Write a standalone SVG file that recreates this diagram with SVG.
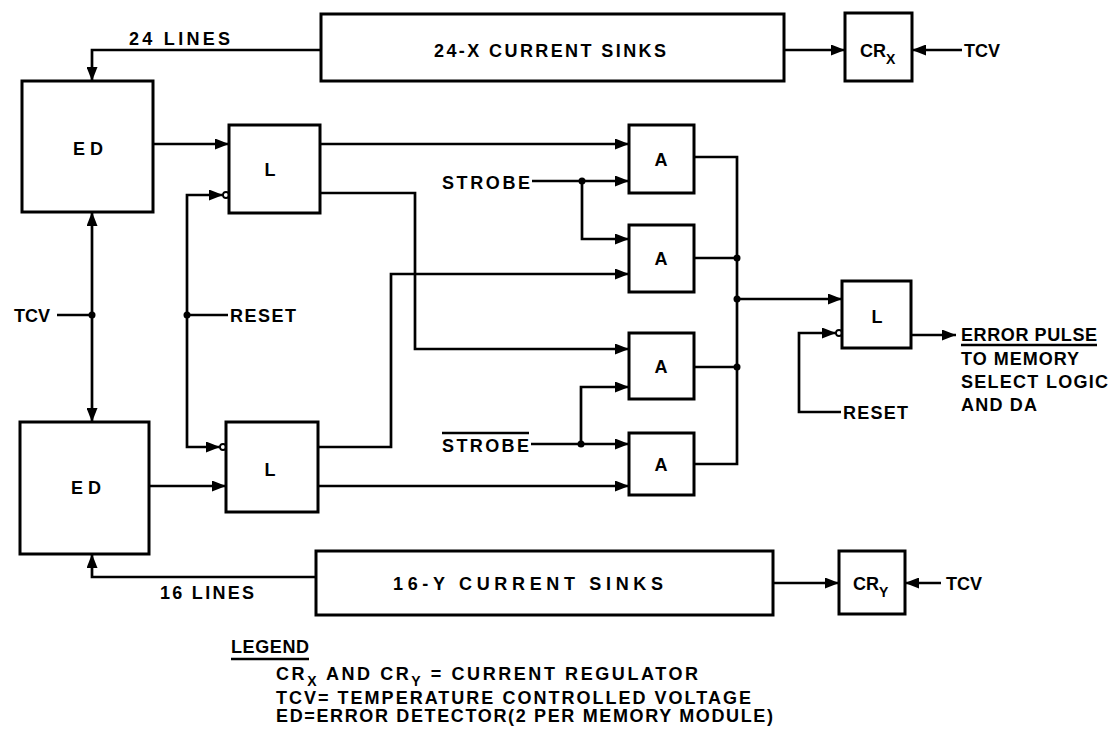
<svg xmlns="http://www.w3.org/2000/svg" width="1111" height="731" viewBox="0 0 1111 731">
<style>
.box{fill:#fff;stroke:#000;stroke-width:3}
.ln{fill:none;stroke:#000;stroke-width:2.7}
.ar{marker-end:url(#arr)}
.dot{fill:#000}
.bub{fill:#fff;stroke:#000;stroke-width:1.8}
text{font-family:"Liberation Sans",Arial,sans-serif;font-weight:bold;font-size:18px;fill:#000}
.c{text-anchor:middle}
.sub{font-size:14px}
</style>
<defs>
<marker id="arr" viewBox="0 0 14 11" refX="14" refY="5.5" markerWidth="14" markerHeight="11" markerUnits="userSpaceOnUse" orient="auto-start-reverse">
<path d="M0,0 L14,5.5 L0,11 z" fill="#000"/>
</marker>
</defs>
<rect width="1111" height="731" fill="#fff"/>

<g id="connectors">
<path class="ln ar" d="M321,50 H92 V81"/>
<path class="ln ar" d="M784,50 H845"/>
<path class="ln ar" d="M962,50 H912"/>
<path class="ln ar" d="M153,144 H229"/>
<path class="ln ar" d="M320,144 H629"/>
<path class="ln ar" d="M532,181 H629"/>
<path class="ln ar" d="M582,181 V239 H629"/>
<circle class="dot" cx="582" cy="181" r="3.5"/>
<path class="ln ar" d="M320,193 H415 V349 H629"/>
<path class="ln ar" d="M318,447 H391 V274 H629"/>
<path class="ln ar" d="M149,486 H226"/>
<path class="ln ar" d="M318,486 H629"/>
<path class="ln ar" d="M531,444 H629"/>
<path class="ln ar" d="M581,444 V387 H629"/>
<circle class="dot" cx="581" cy="444" r="3.5"/>
<path class="ln" d="M694,157 H737 V464 H694"/>
<path class="ln" d="M694,258 H737"/>
<path class="ln" d="M694,367 H737"/>
<circle class="dot" cx="737" cy="258" r="3.5"/>
<circle class="dot" cx="737" cy="299" r="3.5"/>
<circle class="dot" cx="737" cy="367" r="3.5"/>
<path class="ln ar" d="M737,299 H842"/>
<path class="ln ar" d="M841,412 H799 V333 H836"/>
<circle class="bub" cx="839" cy="333" r="3"/>
<path class="ln ar" d="M911,335 H956"/>
<path class="ln" d="M57,315 H92"/>
<path class="ln ar" d="M92,315 V212"/>
<path class="ln ar" d="M92,315 V422"/>
<circle class="dot" cx="92" cy="315" r="3.5"/>
<path class="ln" d="M228,315 H187"/>
<path class="ln ar" d="M187,315 V195 H223"/>
<path class="ln ar" d="M187,315 V447 H220"/>
<circle class="dot" cx="187" cy="315" r="3.5"/>
<circle class="bub" cx="226" cy="195" r="3"/>
<circle class="bub" cx="223" cy="447" r="3"/>
<path class="ln ar" d="M316,577 H92 V554"/>
<path class="ln ar" d="M773,583 H839"/>
<path class="ln ar" d="M941,583 H905"/>
</g>

<g id="sinksX"><rect class="box" x="321" y="14" width="463" height="67"/><text class="c" x="550" y="57" textLength="232" lengthAdjust="spacing">24-X CURRENT SINKS</text></g>
<g id="crx"><rect class="box" x="845" y="13" width="67" height="68"/><text x="860" y="57">CR<tspan class="sub" dy="7">X</tspan></text></g>
<g id="ed1"><rect class="box" x="22" y="81" width="131" height="131"/><text class="c" x="88" y="155">E D</text></g>
<g id="l1"><rect class="box" x="229" y="125" width="91" height="88"/><text class="c" x="270" y="176">L</text></g>
<g id="a1"><rect class="box" x="629" y="125" width="65" height="68"/><text class="c" x="661" y="166">A</text></g>
<g id="a2"><rect class="box" x="629" y="225" width="65" height="67"/><text class="c" x="661" y="265">A</text></g>
<g id="a3"><rect class="box" x="629" y="333" width="65" height="66"/><text class="c" x="661" y="373">A</text></g>
<g id="a4"><rect class="box" x="629" y="433" width="65" height="62"/><text class="c" x="661" y="471">A</text></g>
<g id="l3"><rect class="box" x="842" y="281" width="69" height="67"/><text class="c" x="877" y="323">L</text></g>
<g id="ed2"><rect class="box" x="20" y="422" width="129" height="132"/><text class="c" x="86" y="494">E D</text></g>
<g id="l2"><rect class="box" x="226" y="422" width="92" height="90"/><text class="c" x="270" y="476">L</text></g>
<g id="sinksY"><rect class="box" x="316" y="551" width="457" height="64"/><text class="c" x="528" y="590" textLength="270" lengthAdjust="spacing">16-Y CURRENT SINKS</text></g>
<g id="cry"><rect class="box" x="839" y="551" width="66" height="63"/><text x="853" y="590">CR<tspan class="sub" dy="7">Y</tspan></text></g>

<g id="labels">
<text x="129" y="45" textLength="101" lengthAdjust="spacing">24 LINES</text>
<text x="964" y="57">TCV</text>
<text x="442" y="189" textLength="88" lengthAdjust="spacing">STROBE</text>
<text x="14" y="322">TCV</text>
<text x="230" y="322" textLength="66" lengthAdjust="spacing">RESET</text>
<text x="442" y="452" textLength="87" lengthAdjust="spacing">STROBE</text>
<line class="ln" x1="442" y1="433" x2="529" y2="433" stroke-width="2"/>
<text x="843" y="419" textLength="65" lengthAdjust="spacing">RESET</text>
<text x="961" y="341" textLength="136" lengthAdjust="spacing">ERROR PULSE</text>
<line class="ln" x1="961" y1="345" x2="1097" y2="345" stroke-width="2"/>
<text x="961" y="365" textLength="118" lengthAdjust="spacing">TO MEMORY</text>
<text x="961" y="388" textLength="147" lengthAdjust="spacing">SELECT LOGIC</text>
<text x="961" y="411" textLength="76" lengthAdjust="spacing">AND DA</text>
<text x="160" y="599" textLength="94" lengthAdjust="spacing">16 LINES</text>
<text x="946" y="590">TCV</text>
<text x="231" y="653" textLength="78" lengthAdjust="spacing">LEGEND</text>
<line class="ln" x1="231" y1="659" x2="309" y2="659" stroke-width="2"/>
<text x="276" y="680" textLength="422" lengthAdjust="spacing">CR<tspan class="sub" dy="6">X</tspan><tspan dy="-6"> AND CR</tspan><tspan class="sub" dy="6">Y</tspan><tspan dy="-6"> = CURRENT REGULATOR</tspan></text>
<text x="276" y="704" textLength="475" lengthAdjust="spacing">TCV= TEMPERATURE CONTROLLED VOLTAGE</text>
<text x="276" y="722" textLength="497" lengthAdjust="spacing">ED=ERROR DETECTOR(2 PER MEMORY MODULE)</text>
</g>
</svg>
